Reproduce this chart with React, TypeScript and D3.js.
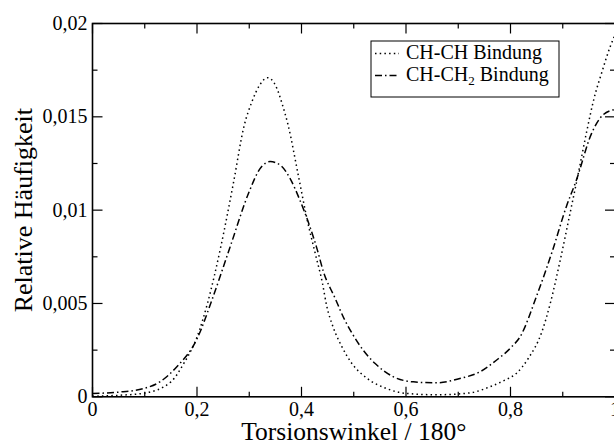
import React from "react";
import * as d3 from "d3";

const chX: number[] = [0, 0.05, 0.1, 0.15, 0.175, 0.2, 0.22, 0.246, 0.27, 0.29, 0.305, 0.32, 0.335, 0.35, 0.364, 0.374, 0.395, 0.41, 0.427, 0.44, 0.448, 0.461, 0.477, 0.496, 0.525, 0.563, 0.601, 0.658, 0.722, 0.76, 0.789, 0.811, 0.835, 0.859, 0.877, 0.895, 0.913, 0.93, 0.945, 0.96, 0.975, 0.99, 1.0];
const chY: number[] = [0.00003, 0.00008, 0.0002, 0.0008, 0.0018, 0.0032, 0.005, 0.0081, 0.0115, 0.0145, 0.0158, 0.0167, 0.0171, 0.0167, 0.0156, 0.0146, 0.0117, 0.0096, 0.0076, 0.0061, 0.0049, 0.0037, 0.0027, 0.0018, 0.001, 0.00044, 0.00018, 0.00011, 0.00021, 0.00053, 0.00089, 0.00125, 0.0021, 0.0034, 0.0051, 0.0073, 0.0097, 0.012, 0.0141, 0.016, 0.0174, 0.0187, 0.0194];

const ch2X: number[] = [0, 0.05, 0.0975, 0.129, 0.161, 0.2, 0.23, 0.263, 0.3, 0.32, 0.34, 0.36, 0.378, 0.397, 0.43, 0.442, 0.464, 0.483, 0.499, 0.518, 0.541, 0.576, 0.614, 0.658, 0.703, 0.741, 0.773, 0.802, 0.818, 0.85, 0.88, 0.907, 0.926, 0.955, 0.977, 1.0];
const ch2Y: number[] = [0.00018, 0.00025, 0.00044, 0.0008, 0.0016, 0.0031, 0.0053, 0.008, 0.011, 0.0122, 0.0126, 0.0124, 0.0117, 0.01053, 0.0079, 0.0067, 0.0053, 0.0041, 0.0033, 0.0025, 0.00178, 0.00107, 0.0008, 0.00075, 0.00098, 0.00133, 0.00196, 0.00267, 0.0032, 0.0054, 0.0078, 0.0102, 0.0116, 0.0141, 0.0151, 0.0154];

const xMajor: number[] = [0, 0.2, 0.4, 0.6, 0.8, 1.0];
const xMinor: number[] = [0.1, 0.3, 0.5, 0.7, 0.9];
const yMajor: number[] = [0, 0.005, 0.01, 0.015, 0.02];
const yMinor: number[] = [0.0025, 0.0075, 0.0125, 0.0175];
const xTickLabels: string[] = ["0", "0,2", "0,4", "0,6", "0,8", "1"];
const yTickLabels: string[] = ["0", "0,005", "0,01", "0,015", "0,02"];

const FONT = '"Liberation Serif", "Times New Roman", serif';

export default function App() {
  const W = 614, H = 444;
  const left = 92.5, right = 615, top = 23.5, bottom = 396.8;
  const x = d3.scaleLinear().domain([0, 1]).range([left, right]);
  const y = d3.scaleLinear().domain([0, 0.02]).range([bottom, top]);
  const line = d3.line<[number, number]>().x(d => x(d[0])).y(d => y(d[1])).curve(d3.curveMonotoneX);
  const d1 = line(chX.map((v, i) => [v, chY[i]] as [number, number])) || "";
  const d2 = line(ch2X.map((v, i) => [v, ch2Y[i]] as [number, number])) || "";
  const dotted = "1.5 3.2";
  const dashdot = "7 3 1.5 3";
  return (
    <div style={{ position: "fixed", left: 0, top: 0 }}>
      <svg width={W} height={H} style={{ display: "block", background: "#fff", fontFamily: FONT }}>
        <rect x={0} y={0} width={W} height={H} fill="#fff" />
        <path d={d1} fill="none" stroke="#000" strokeWidth={1.5} strokeDasharray={dotted} />
        <path d={d2} fill="none" stroke="#000" strokeWidth={1.5} strokeDasharray={dashdot} />
        <rect x={left} y={top} width={right - left} height={bottom - top} fill="none" stroke="#000" strokeWidth={1.6} />
        {xMajor.map((v, i) => (
          <g key={"xm" + i}>
            <line x1={x(v)} x2={x(v)} y1={bottom} y2={bottom - 10} stroke="#000" strokeWidth={1.2} />
            <line x1={x(v)} x2={x(v)} y1={top} y2={top + 10} stroke="#000" strokeWidth={1.2} />
            <text x={x(v)} y={416} textAnchor="middle" fontSize={20} style={{ fontFamily: FONT }}>{xTickLabels[i]}</text>
          </g>
        ))}
        {xMinor.map((v, i) => (
          <g key={"xn" + i}>
            <line x1={x(v)} x2={x(v)} y1={bottom} y2={bottom - 5} stroke="#000" strokeWidth={1.2} />
            <line x1={x(v)} x2={x(v)} y1={top} y2={top + 5} stroke="#000" strokeWidth={1.2} />
          </g>
        ))}
        {yMajor.map((v, i) => (
          <g key={"ym" + i}>
            <line x1={left} x2={left + 10} y1={y(v)} y2={y(v)} stroke="#000" strokeWidth={1.2} />
            <line x1={right} x2={right - 10} y1={y(v)} y2={y(v)} stroke="#000" strokeWidth={1.2} />
            <text x={left - 5} y={y(v) + 6.5} textAnchor="end" fontSize={20} style={{ fontFamily: FONT }}>{yTickLabels[i]}</text>
          </g>
        ))}
        {yMinor.map((v, i) => (
          <g key={"yn" + i}>
            <line x1={left} x2={left + 5} y1={y(v)} y2={y(v)} stroke="#000" strokeWidth={1.2} />
            <line x1={right} x2={right - 5} y1={y(v)} y2={y(v)} stroke="#000" strokeWidth={1.2} />
          </g>
        ))}
        <text x={(left + right) / 2} y={440} textAnchor="middle" fontSize={25.5} style={{ fontFamily: FONT }}>Torsionswinkel / 180°</text>
        <text transform={`translate(32, ${(top + bottom) / 2}) rotate(-90)`} textAnchor="middle" fontSize={26} style={{ fontFamily: FONT }}>Relative Häufigkeit</text>
        <rect x={371} y={41} width={188} height={56} fill="#fff" stroke="#000" strokeWidth={1} />
        <line x1={375} x2={399} y1={53.5} y2={53.5} stroke="#000" strokeWidth={1.5} strokeDasharray={dotted} />
        <line x1={375} x2={399} y1={75.5} y2={75.5} stroke="#000" strokeWidth={1.5} strokeDasharray={dashdot} />
        <text x={406} y={59} fontSize={20} style={{ fontFamily: FONT }}>CH-CH Bindung</text>
        <text x={406} y={81} fontSize={20} style={{ fontFamily: FONT }}>CH-CH<tspan fontSize={13} dy={4}>2</tspan><tspan dy={-4}> Bindung</tspan></text>
      </svg>
    </div>
  );
}
